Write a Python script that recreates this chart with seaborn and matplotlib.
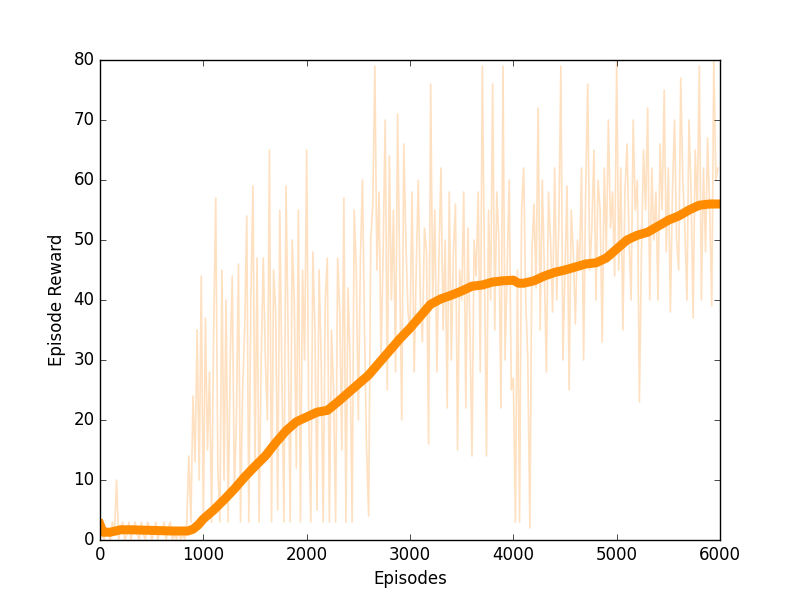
import numpy as np
import matplotlib
matplotlib.use("Agg")
import matplotlib.pyplot as plt
import seaborn as sns

# raw episode reward, one value every 20 episodes
raw_step = 20
raw_reward = [
    3, 1, 0, 2, 1, 0, 3, 1, 10, 0,
    2, 3, 0, 1, 3, 0, 2, 3, 1, 0,
    3, 1, 0, 3, 2, 0, 1, 3, 0, 2,
    1, 3, 0, 2, 3, 0, 1, 0, 2, 0,
    1, 0, 3, 14, 3, 24, 13, 35, 10, 44,
    3, 37, 15, 28, 3, 35, 57, 12, 3, 45,
    10, 40, 3, 30, 44, 8, 20, 46, 3, 25,
    35, 54, 3, 40, 59, 12, 47, 3, 30, 47,
    30, 20, 65, 3, 45, 38, 5, 55, 28, 3,
    59, 35, 3, 50, 40, 12, 55, 3, 45, 30,
    65, 20, 3, 48, 35, 5, 45, 30, 3, 40,
    47, 3, 35, 25, 3, 47, 38, 15, 57, 3,
    42, 30, 3, 55, 45, 20, 47, 60, 35, 15,
    4, 50, 56, 79, 45, 58, 30, 48, 70, 25,
    64, 40, 55, 28, 71, 45, 20, 66, 50, 38,
    35, 58, 28, 45, 60, 40, 33, 52, 48, 16,
    76, 40, 55, 28, 47, 62, 35, 50, 22, 58,
    30, 48, 56, 15, 45, 40, 58, 22, 52, 35,
    14, 50, 44, 58, 28, 79, 46, 14, 55, 40,
    76, 35, 58, 50, 22, 79, 30, 45, 60, 25,
    27, 3, 45, 3, 55, 62, 40, 30, 2, 48,
    56, 42, 72, 35, 60, 45, 28, 58, 50, 38,
    62, 40, 52, 79, 30, 45, 59, 25, 55, 48,
    36, 50, 45, 62, 30, 58, 76, 45, 52, 65,
    40, 60, 55, 33, 62, 48, 70, 52, 58, 44,
    80, 45, 62, 35, 58, 66, 50, 40, 70, 55,
    60, 23, 48, 65, 55, 72, 40, 62, 50, 58,
    40, 66, 55, 75, 48, 62, 38, 58, 70, 50,
    45, 77, 60, 52, 40, 70, 58, 37, 65, 55,
    79, 40, 62, 48, 67, 55, 39, 80, 60, 62,
]
raw_episodes = np.arange(len(raw_reward)) * raw_step

# smoothed reward curve
smooth_episodes = [0, 30, 100, 200, 300, 500, 700, 850, 900, 950,
                   1000, 1100, 1200, 1300, 1400, 1500, 1600, 1700, 1800, 1900,
                   2000, 2100, 2200, 2300, 2400, 2500, 2600, 2700, 2800, 2900,
                   3000, 3100, 3200, 3300, 3400, 3500, 3600, 3700, 3800, 3900,
                   4000, 4050, 4100, 4200, 4300, 4400, 4500, 4600, 4700, 4800,
                   4900, 5000, 5100, 5200, 5300, 5400, 5500, 5600, 5700, 5800,
                   5900, 6000]
smooth_reward = [2.6, 1.3, 1.3, 1.7, 1.7, 1.6, 1.5, 1.5, 1.8, 2.5,
                 3.5, 5.0, 6.7, 8.5, 10.5, 12.3, 14.0, 16.2, 18.2, 19.7,
                 20.5, 21.3, 21.6, 23.0, 24.5, 26.0, 27.5, 29.5, 31.5, 33.5,
                 35.3, 37.3, 39.3, 40.2, 40.8, 41.5, 42.3, 42.5, 43.0, 43.2,
                 43.3, 42.8, 42.8, 43.2, 44.0, 44.6, 45.0, 45.5, 46.0, 46.2,
                 47.0, 48.5, 50.0, 50.8, 51.3, 52.3, 53.3, 54.0, 55.0, 55.8,
                 56.0, 56.0]

plt.style.use("classic")

fig = plt.figure(figsize=(8, 6), dpi=100)
ax = fig.add_axes([0.125, 0.1, 0.775, 0.8])

sns.lineplot(x=raw_episodes, y=raw_reward, color="#ffe0c0",
             linewidth=1.2, ax=ax)
sns.lineplot(x=smooth_episodes, y=smooth_reward, color="darkorange",
             linewidth=6.5, ax=ax)

ax.set_xlim(0, 6000)
ax.set_ylim(0, 80)
ax.set_xlabel("Episodes")
ax.set_ylabel("Episode Reward")

fig.savefig("out.png", dpi=100, facecolor="white")
